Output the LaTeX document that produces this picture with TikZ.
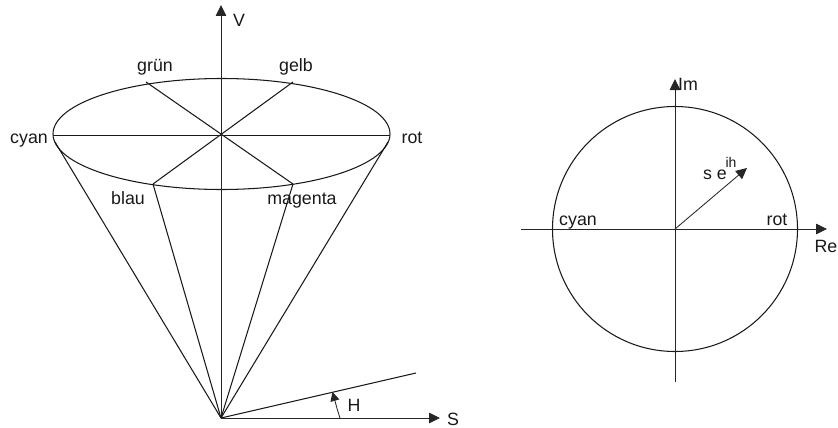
\documentclass[tikz,border=0pt]{standalone}
\usepackage{fontspec}
\setmainfont{Liberation Sans}
\usetikzlibrary{arrows.meta}
\tikzset{
  x=1pt,y=-1pt,
  ln/.style={draw=black!90,line width=1.05pt},
  thinln/.style={draw=black!85,line width=0.85pt},
  arr/.style={-{Triangle[length=11pt,width=10.5pt]}},
  lbl/.style={font=\fontsize{17.8}{20}\selectfont,text=black!90,inner sep=0pt,anchor=base},
  sup/.style={lbl,font=\fontsize{14}{15}\selectfont}
}
\begin{document}
\begin{tikzpicture}
\useasboundingbox (0,0) rectangle (838,428);
% left figure
\coordinate (c) at (221,135.5);
\coordinate (ec) at (221.5,134);
\coordinate (apex) at (221,418);
\coordinate (vtop) at (221,5);
\coordinate (s) at (440,418);
\coordinate (west) at (53,135.5);
\coordinate (east) at (390,135.5);
\coordinate (gr) at (146,82);
\coordinate (ge) at (293,82);
\coordinate (bl) at (153,184);
\coordinate (ma) at (293,184);
\coordinate (cw) at (55,142);
\coordinate (ce) at (388,142);
\coordinate (hend) at (416,373);
\coordinate (h0) at (340,418);
\coordinate (h1) at (332.5,392);
\draw[ln] (ec) ellipse [x radius=168.5,y radius=55.5];
\draw[ln] (west) -- (east);
\draw[ln] (gr) -- (ma);
\draw[ln] (ge) -- (bl);
\draw[thinln,arr] (apex) -- (vtop);
\draw[ln] (apex) -- (cw);
\draw[ln] (apex) -- (ce);
\draw[ln] (apex) -- (bl);
\draw[ln] (apex) -- (ma);
\draw[ln] (apex) -- (hend);
\draw[thinln,arr] (apex) -- (s);
\draw[thinln,-{Triangle[length=9pt,width=9pt]}] (h0) .. controls (337,409) and (335,401) .. (h1);
\node[lbl] (lv) at (239,27) {V};
\node[lbl] (lgr) at (155,71) {grün};
\node[lbl] (lge) at (296,71) {gelb};
\node[lbl] (lcy) at (29,143) {cyan};
\node[lbl] (lro) at (412,143) {rot};
\node[lbl] (lbl1) at (128,204) {blau};
\node[lbl] (lma) at (302,204) {magenta};
\node[lbl] (lh) at (354,411) {H};
\node[lbl] (ls) at (453,425) {S};
% right figure
\coordinate (o) at (675,229);
\coordinate (rew) at (521,229);
\coordinate (ree) at (827,229);
\coordinate (imt) at (675,79);
\coordinate (imb) at (675,382);
\coordinate (vec) at (747,168);
\draw[ln] (o) circle [radius=122.5];
\draw[thinln,arr] (rew) -- (ree);
\draw[thinln,arr] (imb) -- (imt);
\draw[thinln,arr] (o) -- (vec);
\node[lbl] (lim) at (688,91) {Im};
\node[lbl] (lre) at (826,252) {Re};
\node[lbl] (lcy2) at (578,225) {cyan};
\node[lbl] (lro2) at (777,225) {rot};
\node[lbl] (lse) at (715,179) {s e};
\node[sup] (lih) at (731,167) {ih};
\end{tikzpicture}
\end{document}
